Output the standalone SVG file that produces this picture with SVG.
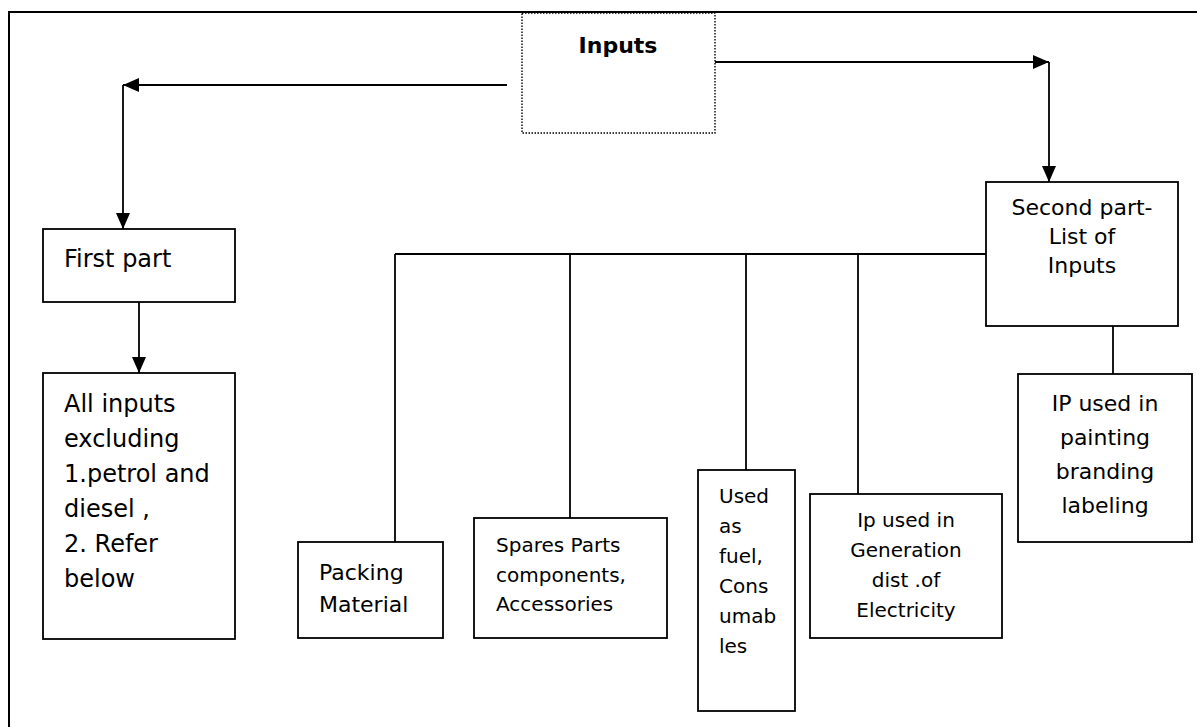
<svg xmlns="http://www.w3.org/2000/svg" width="1197" height="727" viewBox="0 0 1197 727">
  <style>
    .box { fill: #ffffff; stroke: #000000; stroke-width: 1.8; }
    .dotted { fill: #ffffff; stroke: #000000; stroke-width: 1.4; stroke-dasharray: 1.5 1.5; }
    .line { fill: none; stroke: #000000; stroke-width: 1.8; }
    .frame { fill: none; stroke: #000000; stroke-width: 2; }
    text { font-family: "DejaVu Sans", "Noto Sans", sans-serif; fill: #000000; }
    .t24 { font-size: 24px; }
    .t22 { font-size: 22px; }
    .t20 { font-size: 20px; }
    .title { font-size: 22px; font-weight: bold; }
    .mid { text-anchor: middle; }
  </style>
  <defs>
    <marker id="arrowBig" viewBox="0 0 16 14" refX="16" refY="7" markerWidth="16" markerHeight="14" markerUnits="userSpaceOnUse" orient="auto">
      <path d="M0,0 L16,7 L0,14 Z" fill="#000000"/>
    </marker>
  </defs>

  <!-- page frame (top and left rules) -->
  <path class="frame" d="M9,727 L9,12 L1197,12"/>

  <!-- connectors -->
  <g id="connectors">
    <!-- Inputs to First part -->
    <path class="line" d="M507,85 L123,85" marker-end="url(#arrowBig)"/>
    <path class="line" d="M123,85 L123,229" marker-end="url(#arrowBig)"/>
    <!-- Inputs to Second part -->
    <path class="line" d="M715,62 L1049,62" marker-end="url(#arrowBig)"/>
    <path class="line" d="M1049,62 L1049,182" marker-end="url(#arrowBig)"/>
    <!-- First part to All inputs -->
    <path class="line" d="M139,302 L139,373" marker-end="url(#arrowBig)"/>
    <!-- Second part bus to the input categories -->
    <path class="line" d="M986,254 L395,254"/>
    <path class="line" d="M395,254 L395,542"/>
    <path class="line" d="M570,254 L570,518"/>
    <path class="line" d="M746,254 L746,470"/>
    <path class="line" d="M858,254 L858,494"/>
    <path class="line" d="M1113,326 L1113,374"/>
  </g>

  <g id="inputs">
    <rect class="dotted" x="522" y="13" width="193" height="120"/>
    <text class="title mid" x="618" y="53">Inputs</text>
  </g>

  <g id="first-part">
    <rect class="box" x="43" y="229" width="192" height="73"/>
    <text class="t24" x="64" y="267">First part</text>
  </g>

  <g id="all-inputs">
    <rect class="box" x="43" y="373" width="192" height="266"/>
    <text class="t24" x="64" y="412">All inputs</text>
    <text class="t24" x="64" y="447">excluding</text>
    <text class="t24" x="64" y="482">1.petrol and</text>
    <text class="t24" x="64" y="517">diesel ,</text>
    <text class="t24" x="64" y="552">2. Refer</text>
    <text class="t24" x="64" y="587">below</text>
  </g>

  <g id="second-part">
    <rect class="box" x="986" y="182" width="192" height="144"/>
    <text class="t22 mid" x="1082" y="215">Second part-</text>
    <text class="t22 mid" x="1082" y="244">List of</text>
    <text class="t22 mid" x="1082" y="273">Inputs</text>
  </g>

  <g id="ip-painting">
    <rect class="box" x="1018" y="374" width="174" height="168"/>
    <text class="t22 mid" x="1105" y="411">IP used in</text>
    <text class="t22 mid" x="1105" y="445">painting</text>
    <text class="t22 mid" x="1105" y="479">branding</text>
    <text class="t22 mid" x="1105" y="513">labeling</text>
  </g>

  <g id="packing-material">
    <rect class="box" x="298" y="542" width="145" height="96"/>
    <text class="t22" x="319" y="580">Packing</text>
    <text class="t22" x="319" y="612">Material</text>
  </g>

  <g id="spares-parts">
    <rect class="box" x="474" y="518" width="193" height="120"/>
    <text class="t20" x="496" y="552">Spares Parts</text>
    <text class="t20" x="496" y="582">components,</text>
    <text class="t20" x="496" y="611">Accessories</text>
  </g>

  <g id="fuel-consumables">
    <rect class="box" x="698" y="470" width="97" height="241"/>
    <text class="t20" x="719" y="503">Used</text>
    <text class="t20" x="719" y="533">as</text>
    <text class="t20" x="719" y="563">fuel,</text>
    <text class="t20" x="719" y="593">Cons</text>
    <text class="t20" x="719" y="623">umab</text>
    <text class="t20" x="719" y="653">les</text>
  </g>

  <g id="electricity">
    <rect class="box" x="810" y="494" width="192" height="144"/>
    <text class="t20 mid" x="906" y="527">Ip used in</text>
    <text class="t20 mid" x="906" y="557">Generation</text>
    <text class="t20 mid" x="906" y="587">dist .of</text>
    <text class="t20 mid" x="906" y="617">Electricity</text>
  </g>
</svg>
